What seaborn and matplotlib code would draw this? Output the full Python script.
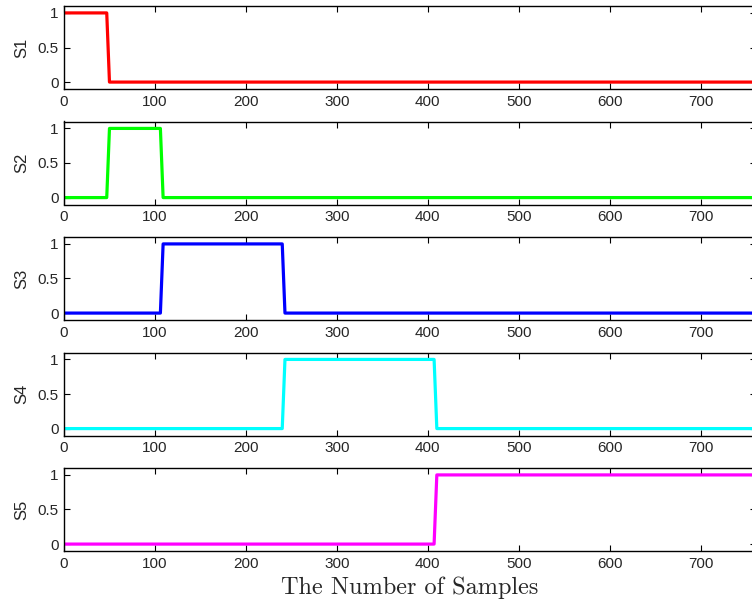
import numpy as np
import pandas as pd
import matplotlib
matplotlib.use("Agg")
import matplotlib.pyplot as plt
import seaborn as sns

# ==========================
# Data
# ==========================

labels = ["S1", "S2", "S3", "S4", "S5"]
colors = ["#ff0000", "#00ff00", "#0000ff", "#00ffff", "#ff00ff"]

s1_x = [0, 47, 50, 760]
s1_y = [1, 1, 0, 0]

s2_x = [0, 47, 50, 106, 109, 760]
s2_y = [0, 0, 1, 1, 0, 0]

s3_x = [0, 106, 109, 240, 243, 760]
s3_y = [0, 0, 1, 1, 0, 0]

s4_x = [0, 240, 243, 407, 410, 760]
s4_y = [0, 0, 1, 1, 0, 0]

s5_x = [0, 407, 410, 760]
s5_y = [0, 0, 1, 1]

xs = [s1_x, s2_x, s3_x, s4_x, s5_x]
ys = [s1_y, s2_y, s3_y, s4_y, s5_y]

x_ticks = [0, 100, 200, 300, 400, 500, 600, 700]
y_ticks = [0, 0.5, 1]

# ==========================
# Style
# ==========================

sns.set_style("ticks")
plt.rcParams["font.family"] = ["Liberation Sans", "DejaVu Sans"]
plt.rcParams["xtick.direction"] = "in"
plt.rcParams["ytick.direction"] = "in"

fig = plt.figure(figsize=(7.52, 6.06), dpi=100)

W, H = 752, 606
left_px, right_px = 64, 756
top0, ax_h, step = 6, 83, 115.5

for i in range(5):
    top = top0 + step * i
    ax = fig.add_axes([left_px / W, 1 - (top + ax_h) / H,
                       (right_px - left_px) / W, ax_h / H])
    df = pd.DataFrame({"x": xs[i], "y": ys[i]})
    sns.lineplot(data=df, x="x", y="y", ax=ax, color=colors[i],
                 linewidth=2.3, sort=False, estimator=None)
    ax.set_xlim(0, 761)
    ax.set_ylim(-0.1, 1.1)
    ax.set_xticks(x_ticks)
    ax.set_yticks(y_ticks)
    ax.set_yticklabels(["0", "0.5", "1"])
    ax.tick_params(axis="both", labelsize=11, length=4, width=0.8,
                   top=True, right=True, color="black", pad=4)
    for sp in ax.spines.values():
        sp.set_visible(True)
        sp.set_linewidth(1.0)
        sp.set_color("black")
    ax.set_ylabel(labels[i], fontsize=12, labelpad=6)
    ax.set_xlabel("")

ax.set_xlabel("The Number of Samples", fontsize=17.5, family="cmr10",
              labelpad=4)

fig.savefig("out.png", dpi=100)
